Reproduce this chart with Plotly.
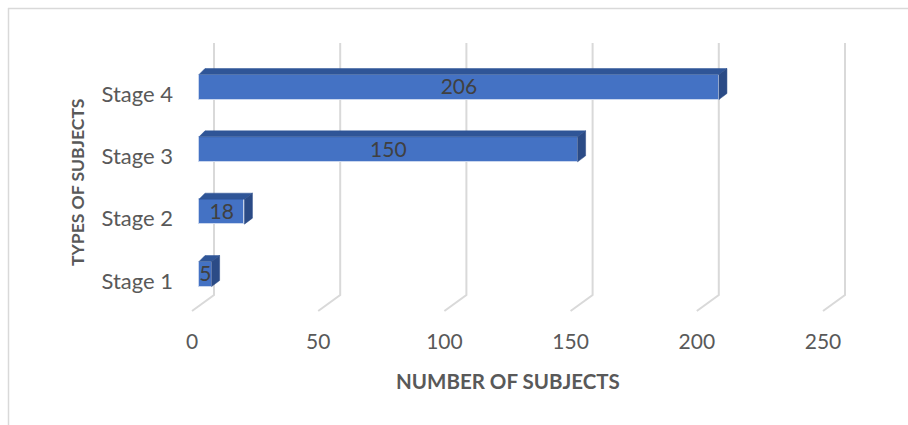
import plotly.graph_objects as go

categories = ["Stage 1", "Stage 2", "Stage 3", "Stage 4"]
values = [5, 18, 150, 206]
x_ticks = [0, 50, 100, 150, 200, 250]

W, H = 908, 425
L, R, T, B = 180, 28, 40, 105
pw, ph = W - L - R, H - T - B
sx = 2.524            # px per unit
sy = 62.33            # px per category
x0 = -19 / sx
xr = [x0, x0 + pw / sx]
yr = [-46 / sy, 3 + 47 / sy]

bw = 25 / sy           # bar thickness
dx = 8 / sx            # depth offset x
dy = 6 / sy            # depth offset y

FONT = "Lato"
fig = go.Figure()

# 3D wall gridlines (behind everything)
gtop = yr[1] - 3 / sy
gbot = yr[1] - 255 / sy
gfront = yr[1] - 271 / sy
shapes = []
for t in x_ticks:
    xb = t + 15 / sx
    xf = t - 7 / sx
    shapes.append(dict(type="path", xref="x", yref="y", layer="below",
                       path=f"M {xb},{gtop} L {xb},{gbot} L {xf},{gfront}",
                       line=dict(color="#d9d9d9", width=2)))

# front faces
fig.add_trace(go.Bar(
    x=values, y=list(range(len(categories))), orientation="h", width=bw,
    marker=dict(color="#4472C4", line=dict(color="#c9d6ee", width=1)),
    showlegend=False, hoverinfo="skip"))

# top and side faces
for i, v in enumerate(values):
    top = i + bw / 2
    bot = i - bw / 2
    fig.add_trace(go.Scatter(
        x=[0, v, v + dx, 0 + dx * 0.75, 0], y=[top, top, top + dy, top + dy, top],
        mode="lines", fill="toself", fillcolor="#2F5597",
        line=dict(color="#2F5597", width=0.5), hoverinfo="skip", showlegend=False))
    fig.add_trace(go.Scatter(
        x=[v, v + dx, v + dx, v, v], y=[top, top + dy, bot + dy, bot, top],
        mode="lines", fill="toself", fillcolor="#2B4B86",
        line=dict(color="#2B4B86", width=0.5), hoverinfo="skip", showlegend=False))

# data labels
fig.add_trace(go.Scatter(
    x=[v / 2 for v in values], y=[i - 2 / sy for i in range(len(categories))],
    mode="text",
    text=[str(v) for v in values], textposition="middle center",
    textfont=dict(family=FONT, size=21, color="#404040"),
    hoverinfo="skip", showlegend=False, cliponaxis=False))

shapes += [
    dict(type="line", xref="paper", yref="paper",
         x0=(8 - L) / pw, x1=(920 - L) / pw, y0=1 + (T - 8.5) / ph, y1=1 + (T - 8.5) / ph,
         line=dict(color="#d9d9d9", width=1.5)),
    dict(type="line", xref="paper", yref="paper",
         x0=(8.5 - L) / pw, x1=(8.5 - L) / pw, y0=1 + (T - 8) / ph, y1=-(440 - T - ph) / ph,
         line=dict(color="#d9d9d9", width=1.5)),
]

fig.update_layout(
    width=W, height=H,
    margin=dict(l=L, r=R, t=T, b=B),
    paper_bgcolor="white", plot_bgcolor="white",
    bargap=0,
    xaxis=dict(range=xr, showgrid=False, zeroline=False, showline=False,
               tickvals=x_ticks, ticktext=[str(t) for t in x_ticks],
               ticks="", ticklabelshift=-7, ticklabelstandoff=7,
               tickfont=dict(family=FONT, size=21, color="#595959")),
    yaxis=dict(range=yr, showgrid=False, zeroline=False, showline=False,
               tickvals=[i - 7 / sy for i in range(len(categories))],
               ticktext=categories, ticks="", ticklabelstandoff=6,
               tickfont=dict(family=FONT, size=22, color="#595959")),
    annotations=[
        dict(text="<b>NUMBER OF SUBJECTS</b>", xref="paper", yref="paper",
             x=(508 - L) / pw, y=-(381 - (T + ph)) / ph, showarrow=False,
             xanchor="center", yanchor="middle",
             font=dict(family=FONT, size=20.5, color="#595959")),
        dict(text="<b>TYPES OF SUBJECTS</b>", xref="paper", yref="paper",
             x=(77 - L) / pw, y=1 - (183 - T) / ph, showarrow=False,
             textangle=-90, xanchor="center", yanchor="middle",
             font=dict(family=FONT, size=17.5, color="#595959")),
    ],
    shapes=shapes,
)

fig.write_html("out.html")
